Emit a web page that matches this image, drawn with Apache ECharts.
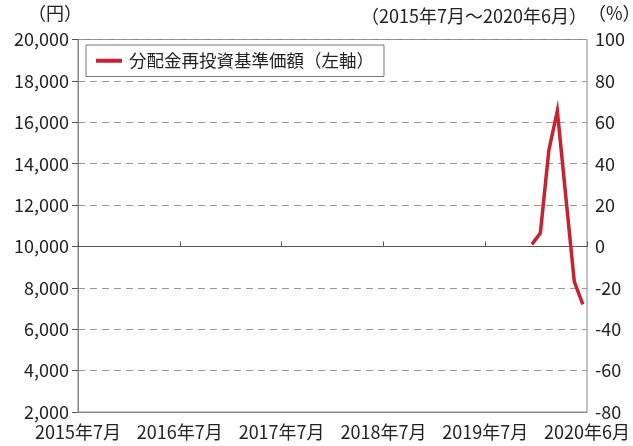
<!DOCTYPE html>
<html><head><meta charset="utf-8">
<script src="https://cdn.jsdelivr.net/npm/echarts@6/dist/echarts.min.js"></script>
<style>html,body{margin:0;padding:0;background:#fff}#c{width:633px;height:446px}</style>
</head><body><div id="c"></div>
<script>
// Data
const seriesName = '分配金再投資基準価額（左軸）';
const dataYears  = [2019, 2020, 2020, 2020, 2020, 2020, 2020];
const dataMonths = [12, 1, 2, 3, 4, 5, 6];
const navValues  = [10100, 10650, 14650, 16550, 12400, 8300, 7200];
const xTickLabels = ['2015年7月', '2016年7月', '2017年7月', '2018年7月', '2019年7月', '2020年6月'];
const leftTicks = [2000, 20000, 2000];   // min, max, interval
const rightTicks = [-80, 100, 20];
const periodText = '（2015年7月～2020年6月）';

const startY = 2015, startM = 7;
const monthIdx = (y, m) => (y - startY) * 12 + (m - startM) + 0.5; // mid-month
const lineData = navValues.map((v, i) => [monthIdx(dataYears[i], dataMonths[i]), v]);

const FONT = '"Noto Sans CJK JP", "Noto Sans", sans-serif';
const TXT = '#222';
const chart = echarts.init(document.getElementById('c'), null, {renderer: 'canvas'});
chart.setOption({
  animation: false,
  textStyle: {fontFamily: FONT},
  grid: {left: 78, right: 45, top: 39.5, bottom: 34, show: true, borderColor: '#888', borderWidth: 1, backgroundColor: 'transparent'},
  legend: {
    left: 86, top: 45, orient: 'horizontal',
    padding: [7, 10, 7, 10],
    borderColor: '#777', borderWidth: 1, backgroundColor: '#fff',
    itemWidth: 26, itemHeight: 4, icon: 'rect',
    textStyle: {fontFamily: FONT, fontSize: 17.5, color: TXT, padding: [0, 0, 0, 2]},
    data: [seriesName]
  },
  xAxis: [
    {type: 'value', min: 0, max: 60, interval: 12, position: 'bottom',
     axisLine: {show: true, onZero: false, lineStyle: {color: '#888'}},
     axisTick: {show: false}, splitLine: {show: false},
     axisLabel: {fontFamily: FONT, fontSize: 18, color: TXT, margin: 11,
       formatter: v => xTickLabels[Math.round(v / 12)] || ''}},
    {type: 'value', min: 0, max: 60, interval: 12, position: 'bottom',
     axisLine: {show: true, onZero: true, onZeroAxisIndex: 1, lineStyle: {color: '#555', width: 1}},
     axisTick: {show: true, inside: true, length: 5, lineStyle: {color: '#555'}},
     axisLabel: {show: false}, splitLine: {show: false}}
  ],
  yAxis: [
    {type: 'value', min: leftTicks[0], max: leftTicks[1], interval: leftTicks[2], position: 'left',
     axisLine: {show: true, lineStyle: {color: '#888'}}, axisTick: {show: false},
     splitLine: {show: true, lineStyle: {color: '#999', type: [7, 5], width: 1}},
     axisLabel: {fontFamily: FONT, fontSize: 18, color: TXT, margin: 9,
       formatter: v => v.toLocaleString('en-US')}},
    {type: 'value', min: rightTicks[0], max: rightTicks[1], interval: rightTicks[2], position: 'right',
     axisLine: {show: true, lineStyle: {color: '#888'}},
     axisTick: {show: true, inside: true, length: 6, lineStyle: {color: '#555'}},
     splitLine: {show: false},
     axisLabel: {fontFamily: FONT, fontSize: 18, color: TXT, margin: 8}}
  ],
  graphic: [
    {type: 'text', left: 28, top: 4, style: {text: '（円）', font: '18px ' + FONT, fill: TXT}},
    {type: 'text', left: 588, top: 4, style: {text: '（%）', font: '18px ' + FONT, fill: TXT}},
    {type: 'text', right: 46, top: 7, style: {text: periodText, font: '18px ' + FONT, fill: TXT}}
  ],
  series: [{
    name: seriesName, type: 'line', xAxisIndex: 0, yAxisIndex: 0,
    data: lineData, showSymbol: false, symbol: 'none',
    lineStyle: {color: '#c7222f', width: 3.5, join: 'miter'}, itemStyle: {color: '#c7222f'}
  }]
});
</script></body></html>
